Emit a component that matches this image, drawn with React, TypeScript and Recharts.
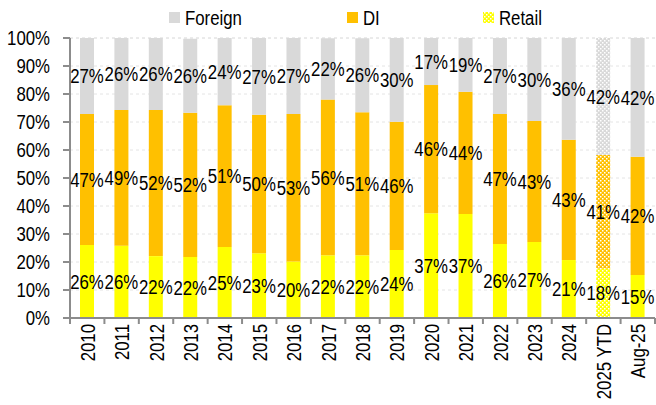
import React from "react";
import {
  BarChart,
  Bar,
  XAxis,
  YAxis,
  CartesianGrid,
  LabelList,
  Cell,
} from "recharts";

// Parts du volume par type d'investisseur (en %)
const categories = [
  "2010", "2011", "2012", "2013", "2014", "2015", "2016", "2017", "2018",
  "2019", "2020", "2021", "2022", "2023", "2024", "2025 YTD", "Aug-25",
];
const retail = [26.1, 25.8, 22.1, 21.8, 25.4, 23.1, 20.2, 22.4, 22.4, 24.3, 37.4, 37.1, 26.4, 27.1, 20.7, 17.7, 15.4];
const di = [46.8, 48.5, 52.2, 51.5, 50.6, 49.5, 52.7, 55.6, 51.1, 45.8, 45.8, 43.7, 46.5, 43.3, 43.0, 40.5, 42.2];
const foreign = [27.1, 25.7, 25.7, 26.4, 24.0, 27.4, 27.1, 21.9, 26.4, 29.9, 16.8, 19.2, 27.1, 29.6, 36.3, 41.8, 42.4];
const yTicks = [0, 10, 20, 30, 40, 50, 60, 70, 80, 90, 100];

const HATCHED = "2025 YTD";

const colors = { retail: "#FFFF00", di: "#FFC000", foreign: "#D9D9D9" };

const data = categories.map((name, i) => ({
  name,
  retail: retail[i],
  di: di[i],
  foreign: foreign[i],
}));

const FONT = "'Liberation Sans', Arial, sans-serif";
const FS = 21;
const SX = 0.8; // le texte d'origine est étroit
const AXIS = "#8c8c8c";

const PLOT_LEFT = 70;
const PLOT_RIGHT = 655;
const STEP = (PLOT_RIGHT - PLOT_LEFT) / categories.length;

// texte condensé horizontalement
const Narrow = ({ x, y, anchor, rotate, baseline, children }: any) => (
  <text
    transform={`translate(${x},${y})${rotate ? " rotate(-90)" : ""} scale(${SX},1)`}
    textAnchor={anchor}
    dominantBaseline={baseline}
    fontSize={FS}
    fill="#000"
    fontFamily={FONT}
  >
    {children}
  </text>
);

const SegmentLabel = (props: any) => {
  const { x, y, width, height, value } = props;
  if (value == null) return null;
  return (
    <Narrow
      x={Number(x) + Number(width) / 2}
      y={Number(y) + Number(height) / 2}
      anchor="middle"
      baseline="central"
    >
      {`${Math.round(value)}%`}
    </Narrow>
  );
};

const CategoryTick = (props: any) => {
  const { x, y, payload, index } = props;
  const axisY = y - 6;
  return (
    <g>
      {index === 0 && (
        <line x1={x - STEP / 2} x2={x - STEP / 2} y1={axisY} y2={axisY + 6} stroke={AXIS} strokeWidth={2} />
      )}
      <line x1={x + STEP / 2} x2={x + STEP / 2} y1={axisY} y2={axisY + 6} stroke={AXIS} strokeWidth={2} />
      <Narrow x={x + 7.5} y={y} anchor="end" rotate>
        {payload.value}
      </Narrow>
    </g>
  );
};

const ValueTick = (props: any) => {
  const { x, y, payload } = props;
  return (
    <Narrow x={x} y={y} anchor="end" baseline="central">
      {`${payload.value}%`}
    </Narrow>
  );
};

const Pattern = ({ id, color }: { id: string; color: string }) => (
  <pattern id={id} width={4} height={4} patternUnits="userSpaceOnUse">
    <rect width={4} height={4} fill={color} />
    <rect x={0} y={0} width={1.5} height={1.5} fill="#fff" />
    <rect x={2} y={2} width={1.5} height={1.5} fill="#fff" />
  </pattern>
);

const legendItems = [
  { left: 169, label: "Foreign", fill: colors.foreign },
  { left: 347, label: "DI", fill: colors.di },
  { left: 483, label: "Retail", fill: "url(#leg-retail)" },
];

export default function App() {
  return (
    <div style={{ position: "fixed", left: 0, top: 0, width: 656, height: 405, background: "#fff" }}>
      <BarChart
        width={656}
        height={405}
        data={data}
        margin={{ top: 38, right: 1, left: 8, bottom: 0 }}
        style={{ fontFamily: FONT }}
      >
        <defs>
          <Pattern id="pat-retail" color={colors.retail} />
          <Pattern id="pat-di" color={colors.di} />
          <Pattern id="pat-foreign" color={colors.foreign} />
        </defs>
        <CartesianGrid vertical={false} stroke="#e4e4e4" strokeDasharray="3 3" />
        <XAxis
          dataKey="name"
          interval={0}
          height={87}
          tickSize={6}
          tickMargin={0}
          tickLine={false}
          axisLine={{ stroke: AXIS, strokeWidth: 2 }}
          tick={<CategoryTick />}
        />
        <YAxis
          domain={[0, 100]}
          ticks={yTicks}
          width={62}
          tickSize={7}
          tickMargin={13}
          axisLine={{ stroke: AXIS, strokeWidth: 2 }}
          tickLine={{ stroke: AXIS, strokeWidth: 2 }}
          tick={<ValueTick />}
        />
        <Bar dataKey="retail" stackId="a" fill={colors.retail} barSize={14} isAnimationActive={false}>
          {data.map((d) => (
            <Cell key={d.name} fill={d.name === HATCHED ? "url(#pat-retail)" : colors.retail} />
          ))}
          <LabelList dataKey="retail" content={<SegmentLabel />} />
        </Bar>
        <Bar dataKey="di" stackId="a" fill={colors.di} barSize={14} isAnimationActive={false}>
          {data.map((d) => (
            <Cell key={d.name} fill={d.name === HATCHED ? "url(#pat-di)" : colors.di} />
          ))}
          <LabelList dataKey="di" content={<SegmentLabel />} />
        </Bar>
        <Bar dataKey="foreign" stackId="a" fill={colors.foreign} barSize={14} isAnimationActive={false}>
          {data.map((d) => (
            <Cell key={d.name} fill={d.name === HATCHED ? "url(#pat-foreign)" : colors.foreign} />
          ))}
          <LabelList dataKey="foreign" content={<SegmentLabel />} />
        </Bar>
      </BarChart>
      <svg width={656} height={34} style={{ position: "absolute", left: 0, top: 0 }}>
        <defs>
          <Pattern id="leg-retail" color={colors.retail} />
        </defs>
        {legendItems.map((it) => (
          <g key={it.label}>
            <rect x={it.left} y={12} width={11} height={11} fill={it.fill} />
            <Narrow x={it.left + 16} y={25} anchor="start">
              {it.label}
            </Narrow>
          </g>
        ))}
      </svg>
    </div>
  );
}
